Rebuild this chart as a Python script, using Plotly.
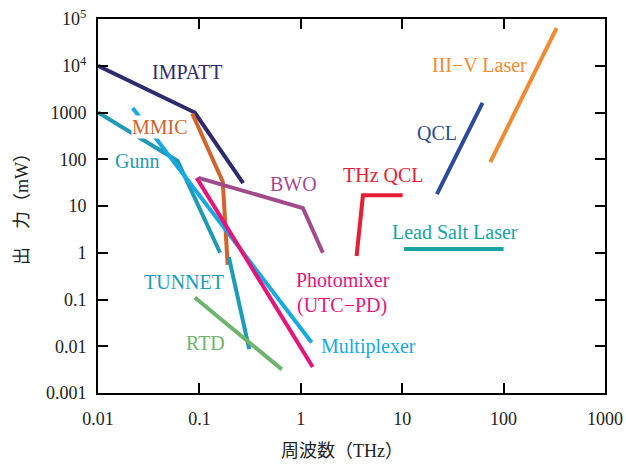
import plotly.graph_objects as go

# ---- data (frequency THz, output power mW) ----
impatt_x = [0.01, 0.09, 0.27]
impatt_y = [10000, 1000, 31]
mmic_x = [0.085, 0.17, 0.19]
mmic_y = [950, 33, 0.55]
gunn_x = [0.01, 0.061, 0.16]
gunn_y = [1000, 92, 1.0]
multiplexer_x = [0.022, 1.28]
multiplexer_y = [1250, 0.012]
photomixer_x = [0.094, 1.31]
photomixer_y = [40, 0.0036]
bwo_x = [0.098, 1.05, 1.65]
bwo_y = [40, 9, 1.0]
thzqcl_x = [3.55, 4.1, 10.1]
thzqcl_y = [0.85, 17, 17]
qcl_x = [22, 62]
qcl_y = [18, 1600]
iiiv_x = [74, 333]
iiiv_y = [87, 64000]
leadsalt_x = [10.4, 100]
leadsalt_y = [1.2, 1.2]
tunnet_x = [0.195, 0.31]
tunnet_y = [0.81, 0.0087]
rtd_x = [0.09, 0.65]
rtd_y = [0.11, 0.0032]

x_tickvals = [0.01, 0.1, 1, 10, 100, 1000]
x_ticktext = ["0.01", "0.1", "1", "10", "100", "1000"]
y_tickvals = [0.001, 0.01, 0.1, 1, 10, 100, 1000, 10000, 100000]
y_ticktext = ["0.001", "0.01", "0.1", "1", "10", "100", "1000",
              "10<sup>4</sup>", "10<sup>5</sup>"]

SERIF = "'Liberation Serif', 'Times New Roman', 'DejaVu Serif', serif"
SERIF_CJK = "'Liberation Serif', 'Noto Sans CJK JP', serif"

series = [
    ("IMPATT", impatt_x, impatt_y, "#2e2a6e"),
    ("MMIC", mmic_x, mmic_y, "#d2632a"),
    ("Gunn", gunn_x, gunn_y, "#1e9ab4"),
    ("Multiplexer", multiplexer_x, multiplexer_y, "#17a9e1"),
    ("Photomixer", photomixer_x, photomixer_y, "#e5157b"),
    ("BWO", bwo_x, bwo_y, "#a14b8c"),
    ("THz QCL", thzqcl_x, thzqcl_y, "#e61e33"),
    ("QCL", qcl_x, qcl_y, "#2d4b9b"),
    ("III-V Laser", iiiv_x, iiiv_y, "#f08b33"),
    ("Lead Salt Laser", leadsalt_x, leadsalt_y, "#17a2a4"),
    ("TUNNET", tunnet_x, tunnet_y, "#1b9cba"),
    ("RTD", rtd_x, rtd_y, "#6db56f"),
]

fig = go.Figure()
for name, xs, ys, col in series:
    fig.add_trace(go.Scatter(x=xs, y=ys, mode="lines", name=name,
                             line=dict(color=col, width=4), showlegend=False))

labels = [
    ("IMPATT", -1.123, 3.866, "#2e2a6e", None),
    ("MMIC", -1.389, 2.69, "#d2632a", "white"),
    ("Gunn", -1.616, 1.963, "#1e9ab4", None),
    ("BWO", -0.069, 1.47, "#a14b8c", None),
    ("THz QCL", 0.818, 1.663, "#e61e33", None),
    ("QCL", 1.34, 2.56, "#2d4b9b", None),
    ("III−V Laser", 1.764, 4.016, "#f08b33", None),
    ("Lead Salt Laser", 1.517, 0.444, "#17a2a4", None),
    ("Photomixer", 0.414, -0.583, "#e5157b", None),
    ("(UTC−PD)", 0.404, -1.118, "#e5157b", None),
    ("Multiplexer", 0.67, -1.995, "#17a9e1", None),
    ("TUNNET", -1.153, -0.626, "#1b9cba", None),
    ("RTD", -0.936, -1.93, "#6db56f", None),
]
for txt, lx, ly, col, bg in labels:
    fig.add_annotation(x=lx, y=ly, xref="x", yref="y", text=txt, showarrow=False,
                       font=dict(family=SERIF, size=20, color=col),
                       bgcolor=bg if bg else "rgba(0,0,0,0)", borderpad=0,
                       xanchor="center", yanchor="middle")

fig.add_annotation(x=342, y=451, xref="paper", yref="paper",
                   text="周波数（THz）", showarrow=False,
                   font=dict(family=SERIF_CJK, size=18, color="#222"),
                   xanchor="center", yanchor="middle")
fig.add_annotation(x=22, y=205, xref="paper", yref="paper",
                   text="出　力（mW）", showarrow=False, textangle=-90,
                   font=dict(family=SERIF_CJK, size=18, color="#222"),
                   xanchor="center", yanchor="middle")

# convert pixel-placed titles to paper coordinates
L, R, T, B, W, H = 98, 21, 19, 71, 626, 464
pw, ph = W - L - R, H - T - B
for ann in fig.layout.annotations[-2:]:
    ann.x = (ann.x - L) / pw
    ann.y = (H - B - ann.y) / ph

axis_common = dict(showgrid=False, zeroline=False, showline=True, linecolor="black",
                   linewidth=2, mirror="ticks", ticks="inside", ticklen=10,
                   tickwidth=2, tickcolor="black", automargin=False,
                   tickfont=dict(family=SERIF, size=18, color="#222"))

fig.update_xaxes(type="log", range=[-2, 3], tickvals=x_tickvals, ticktext=x_ticktext,
                 ticklabelstandoff=8, **axis_common)
fig.update_yaxes(type="log", range=[-3, 5], tickvals=y_tickvals, ticktext=y_ticktext,
                 ticklabelstandoff=6, **axis_common)

fig.update_layout(width=W, height=H, plot_bgcolor="white", paper_bgcolor="white",
                  margin=dict(l=L, r=R, t=T, b=B))

fig.write_html("out.html", config={"displayModeBar": False},
               post_script="document.body.style.margin='0px';")
